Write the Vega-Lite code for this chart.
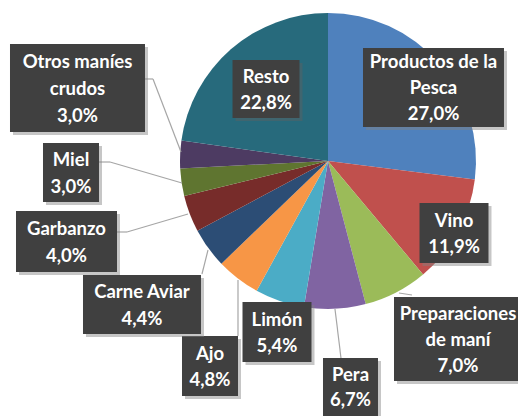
{
  "$schema": "https://vega.github.io/schema/vega-lite/v6.json",
  "width": 518,
  "height": 416,
  "padding": 0,
  "autosize": {"type": "none"},
  "background": "white",
  "config": {"view": {"stroke": null}},
  "data": {
    "values": [
      {"producto": "Productos de la\nPesca", "pct": 27.0},
      {"producto": "Vino", "pct": 11.9},
      {"producto": "Preparaciones\nde maní", "pct": 7.0},
      {"producto": "Pera", "pct": 6.7},
      {"producto": "Limón", "pct": 5.4},
      {"producto": "Ajo", "pct": 4.8},
      {"producto": "Carne Aviar", "pct": 4.4},
      {"producto": "Garbanzo", "pct": 4.0},
      {"producto": "Miel", "pct": 3.0},
      {"producto": "Otros maníes\ncrudos", "pct": 3.0},
      {"producto": "Resto", "pct": 22.8}
    ]
  },
  "transform": [
    {"window": [{"op": "row_number", "as": "orden"}]},
    {"calculate": "datum.producto + '\\n' + replace(format(datum.pct, '.1f'), '.', ',') + '%'", "as": "etiqueta"}
  ],
  "layer": [
    {
      "mark": {"type": "arc", "outerRadius": 148},
      "encoding": {
        "theta": {"field": "pct", "type": "quantitative", "stack": true},
        "order": {"field": "orden", "type": "quantitative"},
        "color": {
          "field": "producto", "type": "nominal", "legend": null,
          "scale": {
            "domain": ["Productos de la\nPesca", "Vino", "Preparaciones\nde maní", "Pera", "Limón", "Ajo", "Carne Aviar", "Garbanzo", "Miel", "Otros maníes\ncrudos", "Resto"],
            "range": ["#4F81BD", "#C0504D", "#9BBB59", "#8064A2", "#4BACC6", "#F79646", "#2C4D75", "#772C2A", "#5F7530", "#4D3B62", "#276A7C"]
          }
        },
        "x": {"datum": 0, "type": "quantitative", "scale": {"domain": [-2.2162, 1.2838], "nice": false, "zero": false}, "axis": null},
        "y": {"datum": 0, "type": "quantitative", "scale": {"domain": [-1.7230, 1.0878], "nice": false, "zero": false}, "axis": null}
      }
    },
    {
      "transform": [{"filter": {"field": "producto", "equal": "Productos de la\nPesca"}}],
      "encoding": {
        "x": {"datum": 0.7128, "type": "quantitative", "scale": {"domain": [-2.2162, 1.2838], "nice": false, "zero": false}, "axis": null},
        "y": {"datum": 0.4966, "type": "quantitative", "scale": {"domain": [-1.7230, 1.0878], "nice": false, "zero": false}, "axis": null}
      },
      "layer": [
        {"mark": {"type": "point", "shape": "M-67.5,-36.5H73.5V42.5H-67.5Z", "size": 4, "filled": true, "fill": "#808080", "opacity": 0.45, "strokeWidth": 0}},
        {"mark": {"type": "point", "shape": "M-70.5,-39.5H70.5V39.5H-70.5Z", "size": 4, "filled": true, "fill": "#404040", "opacity": 1, "strokeWidth": 0}},
        {"mark": {"type": "text", "font": "Lato", "fontWeight": "bold", "fontSize": 18.5, "fill": "white", "lineHeight": 26, "lineBreak": "\n", "dy": -25}, "encoding": {"text": {"field": "etiqueta", "type": "nominal"}}}
      ]
    },
    {
      "transform": [{"filter": {"field": "producto", "equal": "Vino"}}],
      "encoding": {
        "x": {"datum": 0.8514, "type": "quantitative", "scale": {"domain": [-2.2162, 1.2838], "nice": false, "zero": false}, "axis": null},
        "y": {"datum": -0.4865, "type": "quantitative", "scale": {"domain": [-1.7230, 1.0878], "nice": false, "zero": false}, "axis": null}
      },
      "layer": [
        {"mark": {"type": "point", "shape": "M-31.5,-27H37.5V33H-31.5Z", "size": 4, "filled": true, "fill": "#808080", "opacity": 0.45, "strokeWidth": 0}},
        {"mark": {"type": "point", "shape": "M-34.5,-30H34.5V30H-34.5Z", "size": 4, "filled": true, "fill": "#404040", "opacity": 1, "strokeWidth": 0}},
        {"mark": {"type": "text", "font": "Lato", "fontWeight": "bold", "fontSize": 18.5, "fill": "white", "lineHeight": 26.5, "lineBreak": "\n", "dy": -12}, "encoding": {"text": {"field": "etiqueta", "type": "nominal"}}}
      ]
    },
    {
      "transform": [{"filter": {"field": "producto", "equal": "Preparaciones\nde maní"}}],
      "encoding": {
        "x": {"datum": 0.8784, "type": "quantitative", "scale": {"domain": [-2.2162, 1.2838], "nice": false, "zero": false}, "axis": null},
        "y": {"datum": -1.2027, "type": "quantitative", "scale": {"domain": [-1.7230, 1.0878], "nice": false, "zero": false}, "axis": null}
      },
      "layer": [
        {"mark": {"type": "rule", "color": "#a6a6a6", "strokeWidth": 1.2}, "encoding": {"x": {"datum": 0.4797, "type": "quantitative", "scale": {"domain": [-2.2162, 1.2838], "nice": false, "zero": false}, "axis": null}, "y": {"datum": -0.8919, "type": "quantitative", "scale": {"domain": [-1.7230, 1.0878], "nice": false, "zero": false}, "axis": null}, "x2": {"datum": 0.5676}, "y2": {"datum": -0.9054}}},
        {"mark": {"type": "point", "shape": "M-61,-39H67V45H-61Z", "size": 4, "filled": true, "fill": "#808080", "opacity": 0.45, "strokeWidth": 0}},
        {"mark": {"type": "point", "shape": "M-64,-42H64V42H-64Z", "size": 4, "filled": true, "fill": "#404040", "opacity": 1, "strokeWidth": 0}},
        {"mark": {"type": "text", "font": "Lato", "fontWeight": "bold", "fontSize": 18.5, "fill": "white", "lineHeight": 26, "lineBreak": "\n", "dy": -25}, "encoding": {"text": {"field": "etiqueta", "type": "nominal"}}}
      ]
    },
    {
      "transform": [{"filter": {"field": "producto", "equal": "Pera"}}],
      "encoding": {
        "x": {"datum": 0.1520, "type": "quantitative", "scale": {"domain": [-2.2162, 1.2838], "nice": false, "zero": false}, "axis": null},
        "y": {"datum": -1.5338, "type": "quantitative", "scale": {"domain": [-1.7230, 1.0878], "nice": false, "zero": false}, "axis": null}
      },
      "layer": [
        {"mark": {"type": "rule", "color": "#a6a6a6", "strokeWidth": 1.2}, "encoding": {"x": {"datum": 0.0878, "type": "quantitative", "scale": {"domain": [-2.2162, 1.2838], "nice": false, "zero": false}, "axis": null}, "y": {"datum": -1.3311, "type": "quantitative", "scale": {"domain": [-1.7230, 1.0878], "nice": false, "zero": false}, "axis": null}, "x2": {"datum": 0.0473}, "y2": {"datum": -1.0}}},
        {"mark": {"type": "point", "shape": "M-24.5,-27H30.5V33H-24.5Z", "size": 4, "filled": true, "fill": "#808080", "opacity": 0.45, "strokeWidth": 0}},
        {"mark": {"type": "point", "shape": "M-27.5,-30H27.5V30H-27.5Z", "size": 4, "filled": true, "fill": "#404040", "opacity": 1, "strokeWidth": 0}},
        {"mark": {"type": "text", "font": "Lato", "fontWeight": "bold", "fontSize": 18.5, "fill": "white", "lineHeight": 25, "lineBreak": "\n", "dy": -13}, "encoding": {"text": {"field": "etiqueta", "type": "nominal"}}}
      ]
    },
    {
      "transform": [{"filter": {"field": "producto", "equal": "Limón"}}],
      "encoding": {
        "x": {"datum": -0.3446, "type": "quantitative", "scale": {"domain": [-2.2162, 1.2838], "nice": false, "zero": false}, "axis": null},
        "y": {"datum": -1.1554, "type": "quantitative", "scale": {"domain": [-1.7230, 1.0878], "nice": false, "zero": false}, "axis": null}
      },
      "layer": [
        {"mark": {"type": "point", "shape": "M-31.5,-27H37.5V33H-31.5Z", "size": 4, "filled": true, "fill": "#808080", "opacity": 0.45, "strokeWidth": 0}},
        {"mark": {"type": "point", "shape": "M-34.5,-30H34.5V30H-34.5Z", "size": 4, "filled": true, "fill": "#404040", "opacity": 1, "strokeWidth": 0}},
        {"mark": {"type": "text", "font": "Lato", "fontWeight": "bold", "fontSize": 18.5, "fill": "white", "lineHeight": 26.5, "lineBreak": "\n", "dy": -12}, "encoding": {"text": {"field": "etiqueta", "type": "nominal"}}}
      ]
    },
    {
      "transform": [{"filter": {"field": "producto", "equal": "Ajo"}}],
      "encoding": {
        "x": {"datum": -0.7973, "type": "quantitative", "scale": {"domain": [-2.2162, 1.2838], "nice": false, "zero": false}, "axis": null},
        "y": {"datum": -1.3851, "type": "quantitative", "scale": {"domain": [-1.7230, 1.0878], "nice": false, "zero": false}, "axis": null}
      },
      "layer": [
        {"mark": {"type": "rule", "color": "#a6a6a6", "strokeWidth": 1.2}, "encoding": {"x": {"datum": -0.6081, "type": "quantitative", "scale": {"domain": [-2.2162, 1.2838], "nice": false, "zero": false}, "axis": null}, "y": {"datum": -1.1824, "type": "quantitative", "scale": {"domain": [-1.7230, 1.0878], "nice": false, "zero": false}, "axis": null}, "x2": {"datum": -0.6081}, "y2": {"datum": -0.8041}}},
        {"mark": {"type": "point", "shape": "M-25,-27H31V33H-25Z", "size": 4, "filled": true, "fill": "#808080", "opacity": 0.45, "strokeWidth": 0}},
        {"mark": {"type": "point", "shape": "M-28,-30H28V30H-28Z", "size": 4, "filled": true, "fill": "#404040", "opacity": 1, "strokeWidth": 0}},
        {"mark": {"type": "text", "font": "Lato", "fontWeight": "bold", "fontSize": 18.5, "fill": "white", "lineHeight": 26.5, "lineBreak": "\n", "dy": -12}, "encoding": {"text": {"field": "etiqueta", "type": "nominal"}}}
      ]
    },
    {
      "transform": [{"filter": {"field": "producto", "equal": "Carne Aviar"}}],
      "encoding": {
        "x": {"datum": -1.2568, "type": "quantitative", "scale": {"domain": [-2.2162, 1.2838], "nice": false, "zero": false}, "axis": null},
        "y": {"datum": -0.9696, "type": "quantitative", "scale": {"domain": [-1.7230, 1.0878], "nice": false, "zero": false}, "axis": null}
      },
      "layer": [
        {"mark": {"type": "rule", "color": "#a6a6a6", "strokeWidth": 1.2}, "encoding": {"x": {"datum": -0.8514, "type": "quantitative", "scale": {"domain": [-2.2162, 1.2838], "nice": false, "zero": false}, "axis": null}, "y": {"datum": -0.7635, "type": "quantitative", "scale": {"domain": [-1.7230, 1.0878], "nice": false, "zero": false}, "axis": null}, "x2": {"datum": -0.8108}, "y2": {"datum": -0.6014}}},
        {"mark": {"type": "point", "shape": "M-56,-26.5H62V32.5H-56Z", "size": 4, "filled": true, "fill": "#808080", "opacity": 0.45, "strokeWidth": 0}},
        {"mark": {"type": "point", "shape": "M-59,-29.5H59V29.5H-59Z", "size": 4, "filled": true, "fill": "#404040", "opacity": 1, "strokeWidth": 0}},
        {"mark": {"type": "text", "font": "Lato", "fontWeight": "bold", "fontSize": 18.5, "fill": "white", "lineHeight": 26.5, "lineBreak": "\n", "dy": -12}, "encoding": {"text": {"field": "etiqueta", "type": "nominal"}}}
      ]
    },
    {
      "transform": [{"filter": {"field": "producto", "equal": "Garbanzo"}}],
      "encoding": {
        "x": {"datum": -1.7669, "type": "quantitative", "scale": {"domain": [-2.2162, 1.2838], "nice": false, "zero": false}, "axis": null},
        "y": {"datum": -0.5439, "type": "quantitative", "scale": {"domain": [-1.7230, 1.0878], "nice": false, "zero": false}, "axis": null}
      },
      "layer": [
        {"mark": {"type": "rule", "color": "#a6a6a6", "strokeWidth": 1.2}, "encoding": {"x": {"datum": -1.4257, "type": "quantitative", "scale": {"domain": [-2.2162, 1.2838], "nice": false, "zero": false}, "axis": null}, "y": {"datum": -0.4797, "type": "quantitative", "scale": {"domain": [-1.7230, 1.0878], "nice": false, "zero": false}, "axis": null}, "x2": {"datum": -1.3581}, "y2": {"datum": -0.4797}}},
        {"mark": {"type": "rule", "color": "#a6a6a6", "strokeWidth": 1.2}, "encoding": {"x": {"datum": -1.3581, "type": "quantitative", "scale": {"domain": [-2.2162, 1.2838], "nice": false, "zero": false}, "axis": null}, "y": {"datum": -0.4797, "type": "quantitative", "scale": {"domain": [-1.7230, 1.0878], "nice": false, "zero": false}, "axis": null}, "x2": {"datum": -0.9459}, "y2": {"datum": -0.3581}}},
        {"mark": {"type": "point", "shape": "M-47.5,-27.5H53.5V33.5H-47.5Z", "size": 4, "filled": true, "fill": "#808080", "opacity": 0.45, "strokeWidth": 0}},
        {"mark": {"type": "point", "shape": "M-50.5,-30.5H50.5V30.5H-50.5Z", "size": 4, "filled": true, "fill": "#404040", "opacity": 1, "strokeWidth": 0}},
        {"mark": {"type": "text", "font": "Lato", "fontWeight": "bold", "fontSize": 18.5, "fill": "white", "lineHeight": 26.5, "lineBreak": "\n", "dy": -12}, "encoding": {"text": {"field": "etiqueta", "type": "nominal"}}}
      ]
    },
    {
      "transform": [{"filter": {"field": "producto", "equal": "Miel"}}],
      "encoding": {
        "x": {"datum": -1.7365, "type": "quantitative", "scale": {"domain": [-2.2162, 1.2838], "nice": false, "zero": false}, "axis": null},
        "y": {"datum": -0.0777, "type": "quantitative", "scale": {"domain": [-1.7230, 1.0878], "nice": false, "zero": false}, "axis": null}
      },
      "layer": [
        {"mark": {"type": "rule", "color": "#a6a6a6", "strokeWidth": 1.2}, "encoding": {"x": {"datum": -1.5473, "type": "quantitative", "scale": {"domain": [-2.2162, 1.2838], "nice": false, "zero": false}, "axis": null}, "y": {"datum": -0.0068, "type": "quantitative", "scale": {"domain": [-1.7230, 1.0878], "nice": false, "zero": false}, "axis": null}, "x2": {"datum": -1.4730}, "y2": {"datum": -0.0068}}},
        {"mark": {"type": "rule", "color": "#a6a6a6", "strokeWidth": 1.2}, "encoding": {"x": {"datum": -1.4730, "type": "quantitative", "scale": {"domain": [-2.2162, 1.2838], "nice": false, "zero": false}, "axis": null}, "y": {"datum": -0.0068, "type": "quantitative", "scale": {"domain": [-1.7230, 1.0878], "nice": false, "zero": false}, "axis": null}, "x2": {"datum": -0.9865}, "y2": {"datum": -0.1486}}},
        {"mark": {"type": "point", "shape": "M-25,-26.5H31V32.5H-25Z", "size": 4, "filled": true, "fill": "#808080", "opacity": 0.45, "strokeWidth": 0}},
        {"mark": {"type": "point", "shape": "M-28,-29.5H28V29.5H-28Z", "size": 4, "filled": true, "fill": "#404040", "opacity": 1, "strokeWidth": 0}},
        {"mark": {"type": "text", "font": "Lato", "fontWeight": "bold", "fontSize": 18.5, "fill": "white", "lineHeight": 26.5, "lineBreak": "\n", "dy": -12}, "encoding": {"text": {"field": "etiqueta", "type": "nominal"}}}
      ]
    },
    {
      "transform": [{"filter": {"field": "producto", "equal": "Otros maníes\ncrudos"}}],
      "encoding": {
        "x": {"datum": -1.6926, "type": "quantitative", "scale": {"domain": [-2.2162, 1.2838], "nice": false, "zero": false}, "axis": null},
        "y": {"datum": 0.4932, "type": "quantitative", "scale": {"domain": [-1.7230, 1.0878], "nice": false, "zero": false}, "axis": null}
      },
      "layer": [
        {"mark": {"type": "rule", "color": "#a6a6a6", "strokeWidth": 1.2}, "encoding": {"x": {"datum": -1.2365, "type": "quantitative", "scale": {"domain": [-2.2162, 1.2838], "nice": false, "zero": false}, "axis": null}, "y": {"datum": 0.5541, "type": "quantitative", "scale": {"domain": [-1.7230, 1.0878], "nice": false, "zero": false}, "axis": null}, "x2": {"datum": -1.1824}, "y2": {"datum": 0.5541}}},
        {"mark": {"type": "rule", "color": "#a6a6a6", "strokeWidth": 1.2}, "encoding": {"x": {"datum": -1.1824, "type": "quantitative", "scale": {"domain": [-2.2162, 1.2838], "nice": false, "zero": false}, "axis": null}, "y": {"datum": 0.5541, "type": "quantitative", "scale": {"domain": [-1.7230, 1.0878], "nice": false, "zero": false}, "axis": null}, "x2": {"datum": -0.9932}, "y2": {"datum": 0.0608}}},
        {"mark": {"type": "point", "shape": "M-64.5,-41H70.5V47H-64.5Z", "size": 4, "filled": true, "fill": "#808080", "opacity": 0.45, "strokeWidth": 0}},
        {"mark": {"type": "point", "shape": "M-67.5,-44H67.5V44H-67.5Z", "size": 4, "filled": true, "fill": "#404040", "opacity": 1, "strokeWidth": 0}},
        {"mark": {"type": "text", "font": "Lato", "fontWeight": "bold", "fontSize": 18.5, "fill": "white", "lineHeight": 27, "lineBreak": "\n", "dy": -26}, "encoding": {"text": {"field": "etiqueta", "type": "nominal"}}}
      ]
    },
    {
      "transform": [{"filter": {"field": "producto", "equal": "Resto"}}],
      "encoding": {
        "x": {"datum": -0.4189, "type": "quantitative", "scale": {"domain": [-2.2162, 1.2838], "nice": false, "zero": false}, "axis": null},
        "y": {"datum": 0.4865, "type": "quantitative", "scale": {"domain": [-1.7230, 1.0878], "nice": false, "zero": false}, "axis": null}
      },
      "layer": [
        {"mark": {"type": "point", "shape": "M-30.5,-26H36.5V32H-30.5Z", "size": 4, "filled": true, "fill": "#606060", "opacity": 0.45, "strokeWidth": 0}},
        {"mark": {"type": "point", "shape": "M-33.5,-29H33.5V29H-33.5Z", "size": 4, "filled": true, "fill": "#404040", "opacity": 1, "strokeWidth": 0}},
        {"mark": {"type": "text", "font": "Lato", "fontWeight": "bold", "fontSize": 18.5, "fill": "white", "lineHeight": 26.5, "lineBreak": "\n", "dy": -12}, "encoding": {"text": {"field": "etiqueta", "type": "nominal"}}}
      ]
    }
  ]
}
